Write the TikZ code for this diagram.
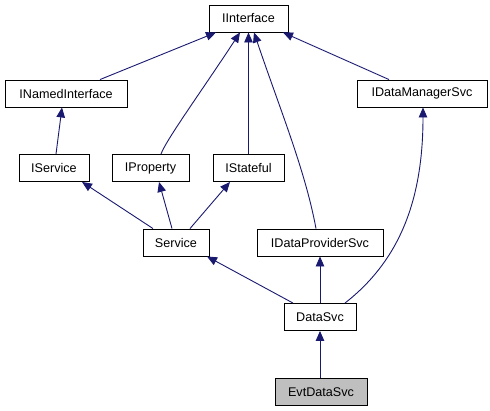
\documentclass[tikz,border=0pt]{standalone}
\usepackage{fontspec}
\setmainfont{Liberation Sans}
\usetikzlibrary{arrows.meta}
\definecolor{midnight}{RGB}{25,25,112}
\definecolor{curgray}{RGB}{191,191,191}
\tikzset{
  classbox/.style={
    draw=black,line width=0.9pt,fill=white,inner sep=0pt,
    minimum height=27pt,font=\fontsize{12.6}{14}\selectfont
  }}
\tikzset{
  inherit/.style={
    draw=midnight,line width=0.9pt,
    -{Triangle[length=10pt,width=8.5pt,fill=midnight]}
  }}

\begin{document}
\begin{tikzpicture}[x=1pt,y=-1pt]
    \useasboundingbox (0,0) rectangle (490,410);
    \node[classbox,minimum width=79pt](IInterface) at (248.5,18.5) {IInterface};
    \node[classbox,minimum width=122pt](INamed) at (66,93.5) {INamedInterface};
    \node[classbox,minimum width=130pt](IDataMgr) at (422,93.5) {IDataManagerSvc};
    \node[classbox,minimum width=70pt](IService) at (54,168) {IService};
    \node[classbox,minimum width=77pt](IProperty) at (150.5,168) {IProperty};
    \node[classbox,minimum width=71pt](IStateful) at (248.5,168) {IStateful};
    \node[classbox,minimum width=66pt](Service) at (176,242.5) {Service};
    \node[classbox,minimum width=126pt](IDataProv) at (320,242.5) {IDataProviderSvc};
    \node[classbox,minimum width=72pt](DataSvc) at (320,317) {DataSvc};
    \node[classbox,minimum width=92pt,fill=curgray](EvtDataSvc) at (321,392) {EvtDataSvc};
    % edges to IInterface
    \draw[inherit] ([xshift=34pt]INamed.north) -- ([xshift=-32.5pt]IInterface.south);
    \draw[inherit] ([xshift=10.5pt]IProperty.north)
	.. controls +(5,-14) and +(-38,58) .. ([xshift=-8.5pt]IInterface.south);
    \draw[inherit] (IStateful.north) -- (IInterface.south);
    \draw[inherit] ([xshift=-4pt]IDataProv.north)
	.. controls +(-11,-59) and +(26,77) .. ([xshift=5.5pt]IInterface.south);
    \draw[inherit] ([xshift=-33pt]IDataMgr.north) -- ([xshift=34.5pt]IInterface.south);
    % second level
    \draw[inherit] ([xshift=2pt]IService.north) -- ([xshift=-4pt]INamed.south);
    \draw[inherit] ([xshift=-23pt]Service.north) -- ([xshift=28pt]IService.south);
    \draw[inherit] ([xshift=-4pt]Service.north) -- ([xshift=8.5pt]IProperty.south);
    \draw[inherit] ([xshift=14pt]Service.north) -- ([xshift=-18.5pt]IStateful.south);
    % DataSvc
    \draw[inherit] ([xshift=-27pt]DataSvc.north) -- ([xshift=31pt]Service.south);
    \draw[inherit] (DataSvc.north) -- (IDataProv.south);
    \draw[inherit] ([xshift=25pt]DataSvc.north)
	.. controls +(55,-43) and +(0,92) .. ([xshift=1pt]IDataMgr.south);
    \draw[inherit] ([xshift=-1pt]EvtDataSvc.north) -- (DataSvc.south);
\end{tikzpicture}
\end{document}
